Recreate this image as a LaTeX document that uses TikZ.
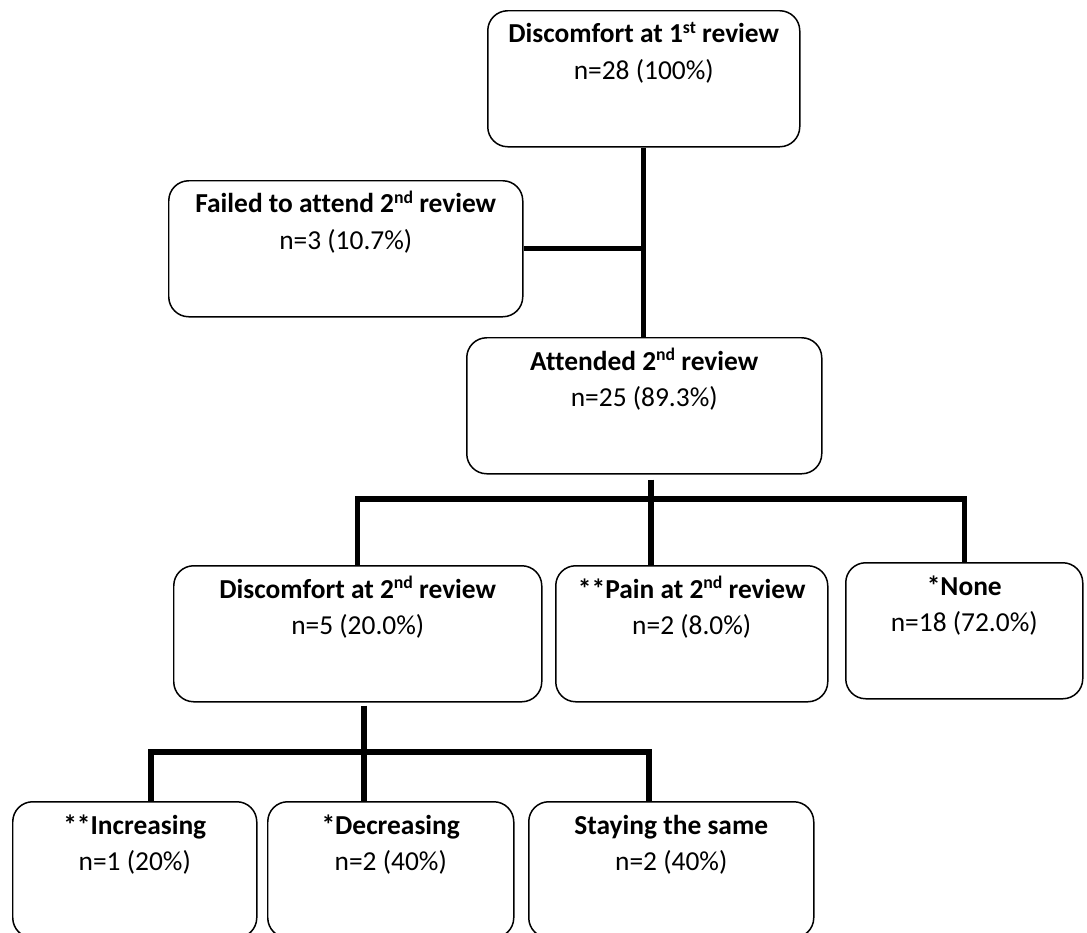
\documentclass[tikz,border=0pt]{standalone}
\usepackage{fontspec}
\setmainfont{Carlito}[Ligatures=NoCommon]
\usepackage{tikz}
\tikzset{
  stage/.style={draw=black, line width=0.85pt, rounded corners=0.4cm, inner xsep=0pt, inner ysep=4pt, anchor=north west, font=\fontsize{15.6pt}{20.5pt}\selectfont},
  link/.style={draw=black, line width=3pt},
}
\newcommand{\sups}[1]{\raisebox{0.33em}{\fontsize{10.1pt}{10pt}\selectfont #1}}
\newcommand{\stagetext}[3]{\parbox[t][69.4pt][t]{#1}{\centering\strut\textbf{#2}\\#3}}

\begin{document}
\begin{tikzpicture}[x=0.2mm, y=-0.2mm]
  \useasboundingbox (0,0) rectangle (1087,932);
  % boxes
  \node[stage] (first) at (487,10) {\stagetext{6.24cm}{Discomfort at 1\sups{st} review}{n=28 (100\%)}};
  \node[stage] (failed) at (168,180) {\stagetext{7.08cm}{Failed to attend 2\sups{nd} review}{n=3 (10.7\%)}};
  \node[stage] (attended) at (466,337) {\stagetext{7.10cm}{Attended 2\sups{nd} review}{n=25 (89.3\%)}};
  \node[stage] (disc) at (173,565) {\stagetext{7.36cm}{Discomfort at 2\sups{nd} review}{n=5 (20.0\%)}};
  \node[stage] (pain) at (555,565) {\stagetext{5.44cm}{**Pain at 2\sups{nd} review}{n=2 (8.0\%)}};
  \node[stage] (none) at (845,562) {\stagetext{4.74cm}{*None}{n=18 (72.0\%)}};
  \node[stage] (incr) at (12,801) {\stagetext{4.88cm}{**Increasing}{n=1 (20\%)}};
  \node[stage] (decr) at (267,801) {\stagetext{4.92cm}{*Decreasing}{n=2 (40\%)}};
  \node[stage] (same) at (528,801) {\stagetext{5.70cm}{Staying the same}{n=2 (40\%)}};
  % links
  \coordinate (hub) at (651,499);
  \coordinate (hubB) at (364,752);
  \coordinate (splitL) at (151,752);
  \coordinate (splitR) at (649,752);
  \draw[link] (first.south) -- (first.south |- attended.north);
  \draw[link] (failed.east) -- (failed.east -| first.south);
  \draw[link, shorten <=1mm] (hub |- attended.south) -- (hub |- pain.north);
  \draw[link] (disc.north) |- (hub) -| (none.north);
  \draw[link, shorten <=0.6mm] (hubB |- disc.south) -- (hubB |- decr.north);
  \draw[link] (splitL |- incr.north) -- (splitL) -- (splitR) -- (splitR |- same.north);
\end{tikzpicture}
\end{document}
